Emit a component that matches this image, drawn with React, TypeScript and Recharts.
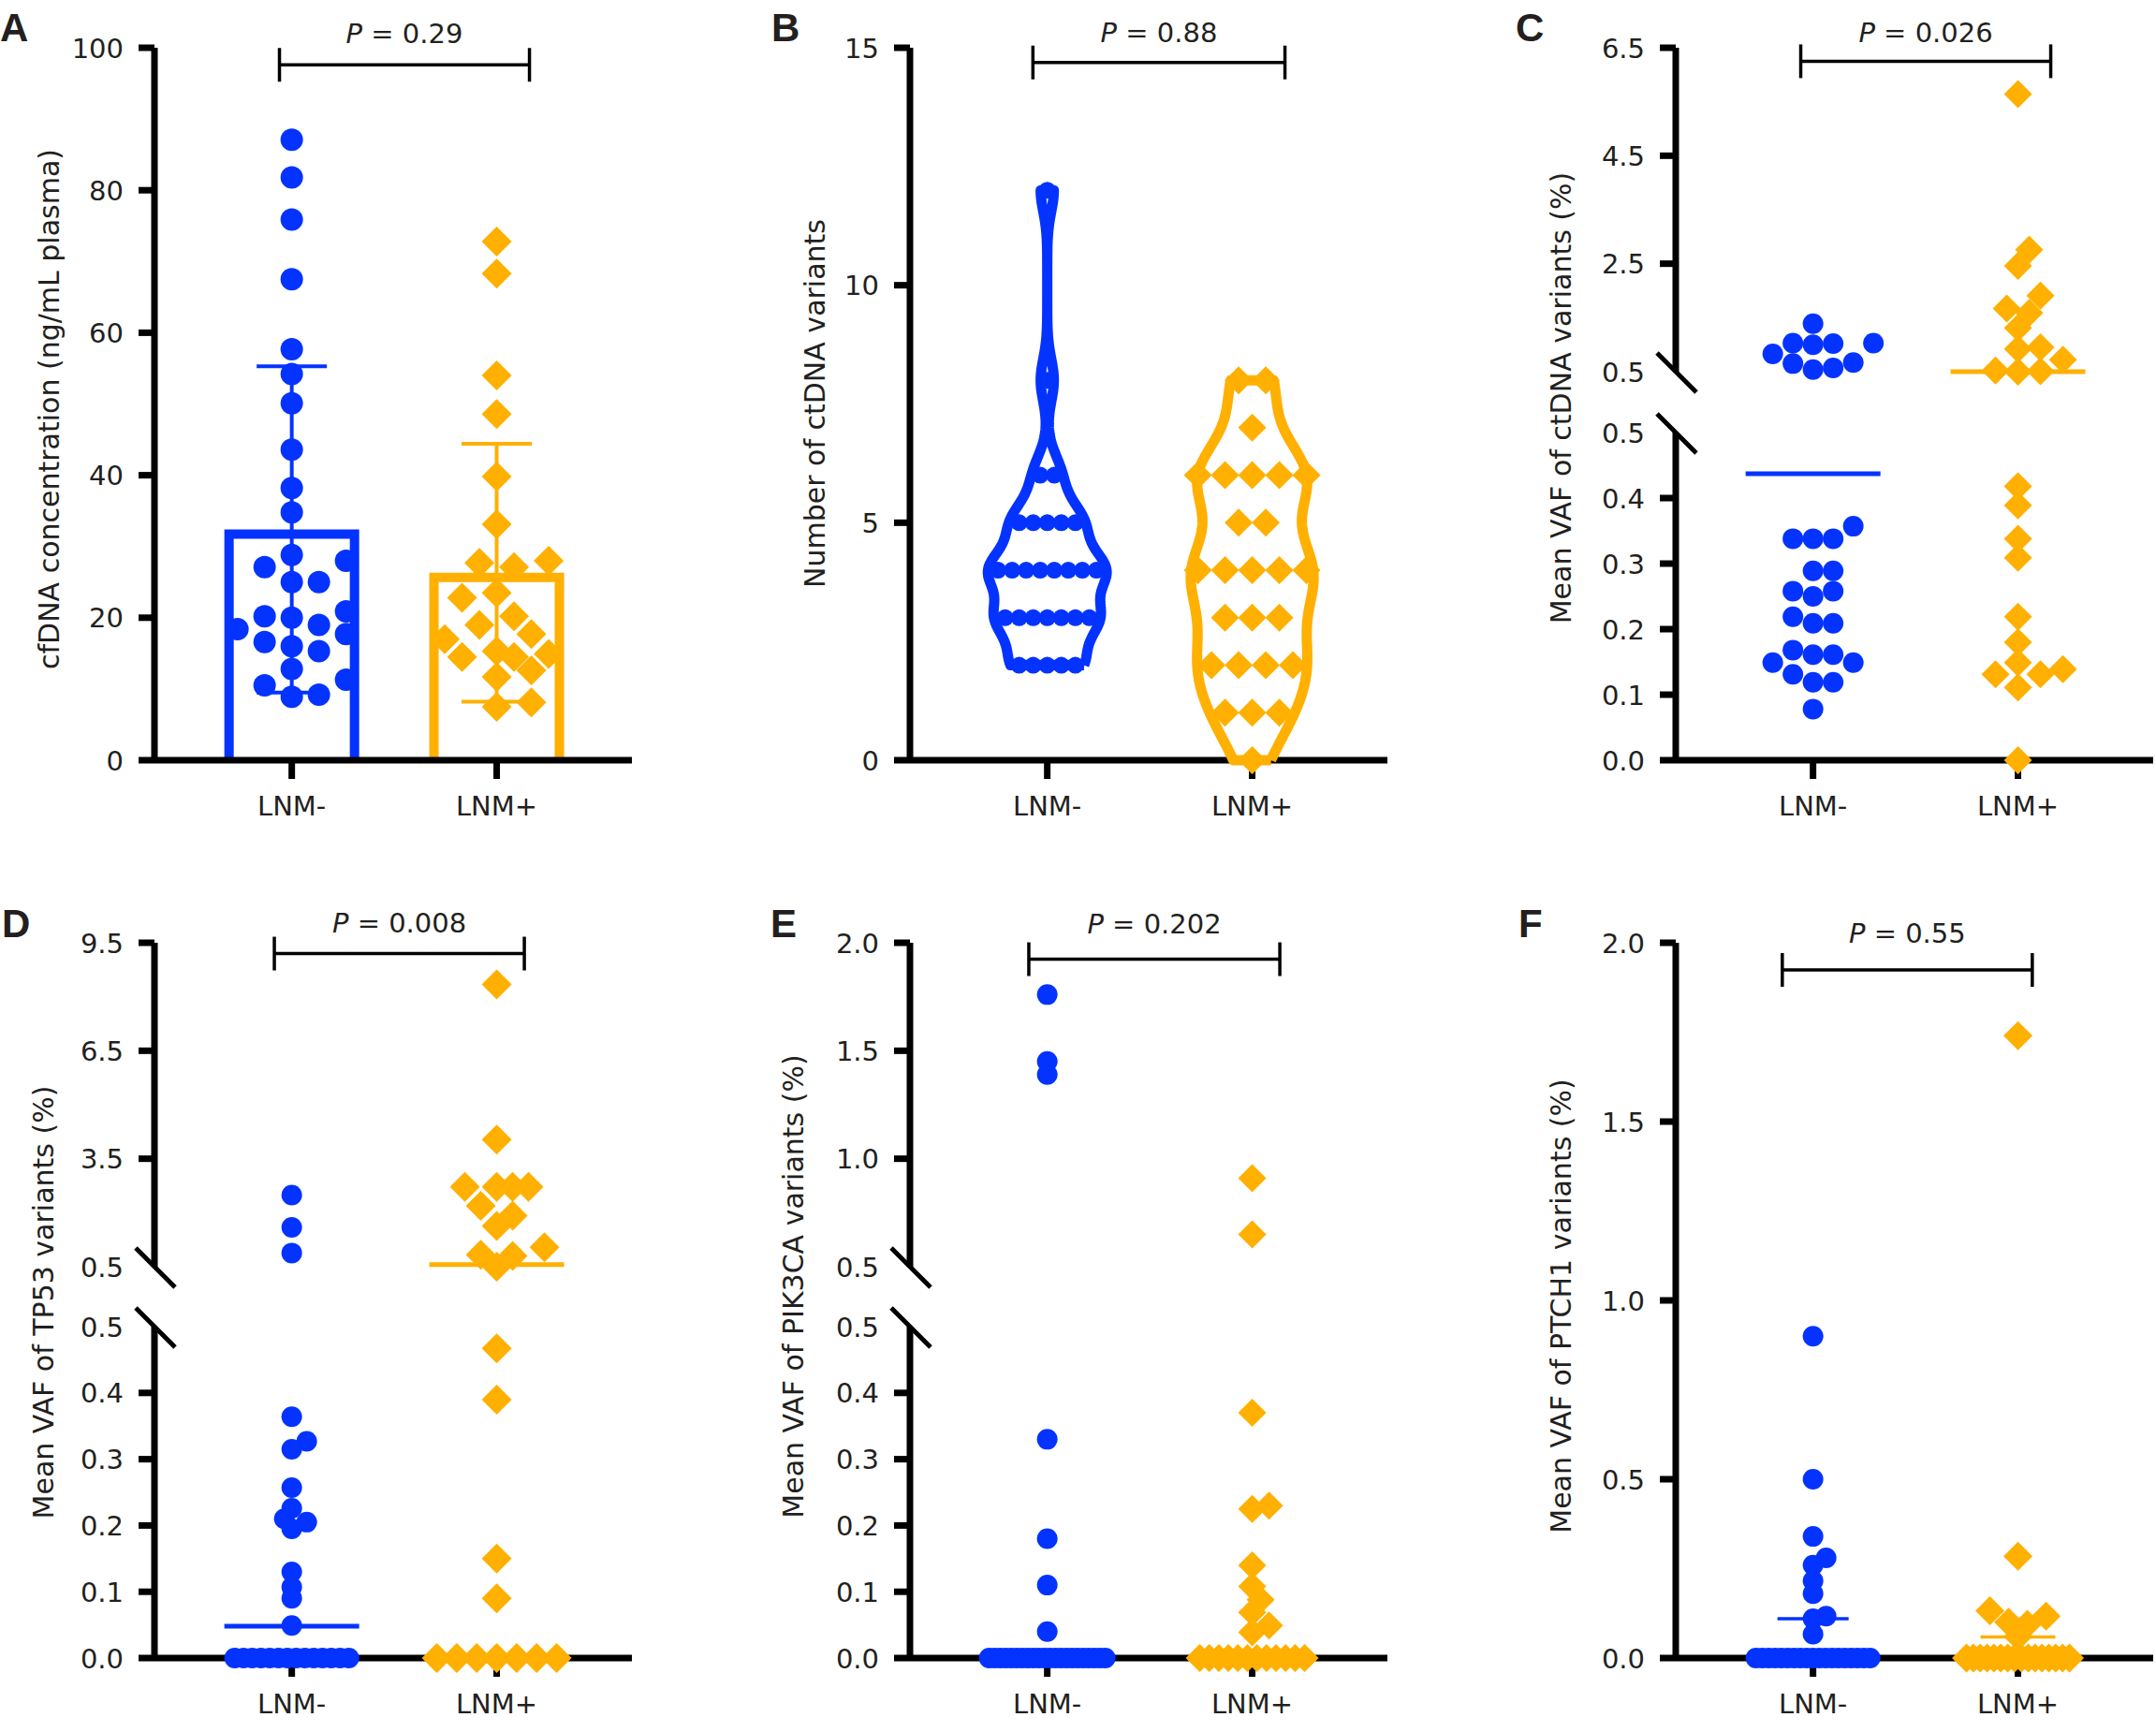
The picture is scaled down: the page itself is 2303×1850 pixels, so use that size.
import React from 'react';
import {
  ComposedChart,
  ScatterChart,
  Scatter,
  XAxis,
  YAxis,
  ReferenceLine,
  ReferenceDot,
  ReferenceArea,
  ErrorBar,
} from 'recharts';

const BLUE = '#0433ff';
const ORANGE = '#ffb000';
const INK = '#231f20';
const FONT = '"DejaVu Sans", Verdana, sans-serif';
const GROUPS = ['LNM-', 'LNM+'];

// A - cfDNA concentration (ng/mL plasma)
const cfdnaNeg = [87.1, 81.8, 75.9, 67.5, 57.7, 54.2, 50.1, 43.6, 38.2, 34.8, 28.8, 28.0, 27.1, 25.0, 25.0, 20.9, 20.2, 20.0, 19.0, 18.4, 17.7, 16.6, 16.0, 15.3, 12.8, 11.3, 10.5, 9.2, 8.9];
const cfdnaPos = [72.8, 68.3, 54.0, 48.6, 39.8, 33.1, 28.0, 27.7, 27.1, 23.5, 22.8, 20.2, 19.0, 17.7, 17.0, 15.3, 14.9, 14.5, 14.5, 12.6, 11.7, 8.1, 7.5];
const cfdnaMean = [32.4, 26.3];
const cfdnaSd = [22.9, 18.1];
const cfdnaTicks = [0, 20, 40, 60, 80, 100];

// B - number of ctDNA variants
const countNeg = [2, 2, 2, 2, 2, 3, 3, 3, 3, 3, 3, 3, 4, 4, 4, 4, 4, 4, 4, 4, 5, 5, 5, 5, 5, 6, 6, 8, 12];
const countPos = [0, 1, 1, 1, 2, 2, 2, 2, 3, 3, 3, 4, 4, 4, 4, 4, 5, 5, 6, 6, 6, 6, 6, 7, 8, 8];
const countTicks = [0, 5, 10, 15];

// C - mean VAF of ctDNA variants (%)
const vafNeg = [1.39, 1.03, 1.03, 1.02, 1.0, 0.83, 0.67, 0.65, 0.57, 0.54, 0.357, 0.338, 0.338, 0.338, 0.289, 0.289, 0.258, 0.258, 0.25, 0.219, 0.209, 0.209, 0.168, 0.161, 0.161, 0.149, 0.149, 0.131, 0.119, 0.119, 0.078];
const vafPos = [5.64, 2.76, 2.46, 1.91, 1.67, 1.59, 1.31, 0.95, 0.92, 0.72, 0.52, 0.51, 0.5, 0.418, 0.389, 0.338, 0.309, 0.219, 0.18, 0.149, 0.139, 0.131, 0.131, 0.111, 0];
const vafCentre = [0.437, 0.5];
const vafUpperTicks = [0.5, 2.5, 4.5, 6.5];

// D - mean VAF of TP53 variants (%)
const tp53Neg = [2.49, 1.59, 0.88, 0.364, 0.327, 0.315, 0.257, 0.226, 0.21, 0.205, 0.195, 0.13, 0.107, 0.09, 0.049, 0, 0, 0, 0, 0, 0, 0, 0, 0, 0, 0, 0, 0, 0];
const tp53Pos = [8.34, 4.03, 2.72, 2.72, 2.72, 2.72, 2.19, 1.92, 1.63, 1.04, 0.83, 0.8, 0.5, 0.467, 0.39, 0.15, 0.09, 0, 0, 0, 0, 0, 0, 0];
const tp53Centre = [0.048, 0.56];
const tp53UpperTicks = [0.5, 3.5, 6.5, 9.5];

// E - mean VAF of PIK3CA variants (%)
const pik3caNeg = [1.76, 1.45, 1.39, 0.33, 0.18, 0.11, 0.04, 0, 0, 0, 0, 0, 0, 0, 0, 0, 0, 0, 0, 0, 0, 0, 0, 0, 0, 0, 0, 0, 0];
const pik3caPos = [0.91, 0.65, 0.37, 0.23, 0.225, 0.14, 0.108, 0.088, 0.069, 0.049, 0.039, 0, 0, 0, 0, 0, 0, 0, 0, 0, 0, 0, 0];
const pik3caUpperTicks = [0.5, 1.0, 1.5, 2.0];

// F - mean VAF of PTCH1 variants (%)
const ptch1Neg = [0.9, 0.5, 0.34, 0.28, 0.26, 0.216, 0.18, 0.117, 0.11, 0.067, 0, 0, 0, 0, 0, 0, 0, 0, 0, 0, 0, 0, 0, 0, 0, 0, 0, 0, 0];
const ptch1Pos = [1.74, 0.285, 0.132, 0.117, 0.1, 0.094, 0.06, 0, 0, 0, 0, 0, 0, 0, 0, 0, 0, 0, 0, 0, 0, 0, 0];
const ptch1Centre = [0.11, 0.059];
const ptch1Ticks = [0, 0.5, 1.0, 1.5, 2.0];

const lowerTicks = [0, 0.1, 0.2, 0.3, 0.4, 0.5];

// geometry
const X_DOMAIN: [number, number] = [0.33, 2.66];
const PLOT_W = 510;
const X_PX = PLOT_W / (X_DOMAIN[1] - X_DOMAIN[0]);
const ML = 150;
const MR = 3;
const XH = 72;
const COL = [165, 972, 1790];
const R1 = { top: 51, bottom: 812, hi: 397, lo: 462 };
const R2 = { top: 1007, bottom: 1771, hi: 1353, lo: 1417 };

const ppu = (top: number, bottom: number, d: [number, number]) => (bottom - top) / (d[1] - d[0]);
const above = (v: number[]) => v.filter((x) => x >= 0.5);
const below = (v: number[]) => v.filter((x) => x < 0.5);

type Swarm = { dia: number; step: number; maxHalf: number; rowMin?: number; rowGap?: number; rowHalf?: number };

// column-scatter layout: equal values become centred rows, the rest are
// pushed sideways until they stop colliding (pixel space)
function swarmOffsets(values: number[], pxPerUnit: number, s: Swarm): number[] {
  const out = values.map(() => 0);
  const placed: { x: number; y: number }[] = [];
  const groups = new Map<number, number[]>();
  values.forEach((v, i) => {
    const g = groups.get(v) ?? [];
    g.push(i);
    groups.set(v, g);
  });
  const rest: number[] = [];
  groups.forEach((idx, v) => {
    if (s.rowMin && idx.length >= s.rowMin) {
      const n = idx.length;
      const gap = n > 1 ? Math.min(s.rowGap ?? s.dia, (2 * (s.rowHalf ?? 1e9)) / (n - 1)) : 0;
      idx.forEach((i, k) => {
        out[i] = (k - (n - 1) / 2) * gap;
        placed.push({ x: out[i], y: v * pxPerUnit });
      });
    } else rest.push(...idx);
  });
  rest.sort((a, b) => values[a] - values[b]);
  const cands = [0];
  for (let k = 1; k * s.step <= s.maxHalf + 0.01; k++) cands.push(k * s.step, -k * s.step);
  for (const i of rest) {
    const y = values[i] * pxPerUnit;
    let best = 0;
    let bestGap = -1;
    for (const c of cands) {
      let gap = Infinity;
      for (const p of placed) gap = Math.min(gap, Math.hypot(p.x - c, p.y - y));
      if (gap >= s.dia) {
        best = c;
        break;
      }
      if (gap > bestGap) {
        bestGap = gap;
        best = c;
      }
    }
    out[i] = best;
    placed.push({ x: best, y });
  }
  return out;
}

function layout(values: number[], group: number, pxPerUnit: number, s: Swarm) {
  const off = swarmOffsets(values, pxPerUnit, s);
  return values.map((v, i) => ({ x: group + off[i] / X_PX, y: v }));
}

// kernel density outline, truncated at the data range
function violin(values: number[], centre: number, bw: number, maxHalf: number) {
  const lo = Math.min(...values);
  const hi = Math.max(...values);
  const n = 240;
  const ys = Array.from({ length: n + 1 }, (_, i) => lo + ((hi - lo) * i) / n);
  const dens = ys.map((y) => values.reduce((s, v) => s + Math.exp(-((y - v) ** 2) / (2 * bw * bw)), 0));
  const m = Math.max(...dens);
  const right = ys.map((y, i) => ({ x: centre + (maxHalf * dens[i]) / m, y }));
  const left = ys.map((y, i) => ({ x: centre - (maxHalf * dens[i]) / m, y })).reverse();
  return [...right, ...left, right[0]];
}

const dot = (color: string, r: number) => (p: any) => <circle cx={p.cx} cy={p.cy} r={r} fill={color} />;
const diamond = (color: string, h: number) => (p: any) => (
  <polygon points={`${p.cx},${p.cy - h} ${p.cx + h},${p.cy} ${p.cx},${p.cy + h} ${p.cx - h},${p.cy}`} fill={color} />
);
const nothing = () => <g />;

function YTick({ y, value, digits, skip }: { y: number; value: number; digits: number; skip?: number }) {
  return (
    <g>
      {value !== skip && <line x1={ML - 17} x2={ML} y1={y} y2={y} stroke="#000" strokeWidth={7} />}
      <text x={ML - 33} y={y} dy={10.5} textAnchor="end" fontSize={29} fontFamily={FONT} fill={INK}>
        {value.toFixed(digits)}
      </text>
    </g>
  );
}

const bracket = (x1: number, x2: number, y: number, pxPerUnit: number) => {
  const t = 18 / pxPerUnit;
  const line = { stroke: '#000', strokeWidth: 3.5, ifOverflow: 'visible' as const };
  return [
    <ReferenceLine key="b0" segment={[{ x: x1, y }, { x: x2, y }]} {...line} />,
    <ReferenceLine key="b1" segment={[{ x: x1, y: y - t }, { x: x1, y: y + t }]} {...line} />,
    <ReferenceLine key="b2" segment={[{ x: x2, y: y - t }, { x: x2, y: y + t }]} {...line} />,
  ];
};

const pLabel = (x: number, y: number, value: string) => (
  <ReferenceDot
    key="p"
    x={x}
    y={y}
    ifOverflow="visible"
    shape={(p: any) => (
      <text x={p.cx} y={p.cy} textAnchor="middle" fontSize={29} fontFamily={FONT} fill={INK}>
        <tspan fontStyle="italic">P</tspan> = {value}
      </text>
    )}
  />
);

const breakMark = (y: number, pxPerUnit: number) => (
  <ReferenceLine
    key="brk"
    segment={[
      { x: X_DOMAIN[0] - 20 / X_PX, y: y + 20 / pxPerUnit },
      { x: X_DOMAIN[0] + 22 / X_PX, y: y - 22 / pxPerUnit },
    ]}
    stroke="#000"
    strokeWidth={5}
    ifOverflow="visible"
  />
);

const centreLine = (group: number, value: number, halfPx: number, color: string, width: number) => (
  <ReferenceLine
    key={`c${group}`}
    segment={[
      { x: group - halfPx / X_PX, y: value },
      { x: group + halfPx / X_PX, y: value },
    ]}
    stroke={color}
    strokeWidth={width}
    ifOverflow="visible"
    zIndex={900}
  />
);

type SegProps = {
  col: number;
  top: number;
  bottom: number;
  domain: [number, number];
  ticks: number[];
  digits: number;
  showX: boolean;
  skip?: number;
  padTop: number;
  padBottom?: number;
  composed?: boolean;
  children: React.ReactNode;
};

function Segment({ col, top, bottom, domain, ticks, digits, showX, skip, padTop, padBottom = 30, composed, children }: SegProps) {
  const w = ML + PLOT_W + MR;
  const h = padTop + (bottom - top) + (showX ? XH : padBottom);
  const margin = { top: padTop, right: MR, bottom: showX ? 0 : padBottom, left: 0 };
  const axes = [
    <XAxis
      key="x"
      type="number"
      dataKey="x"
      domain={X_DOMAIN}
      ticks={[1, 2]}
      interval={0}
      hide={!showX}
      height={XH}
      axisLine={{ stroke: '#000', strokeWidth: 7 }}
      tickLine={{ stroke: '#000', strokeWidth: 7 }}
      tickSize={20}
      tickMargin={18}
      tickFormatter={(v: number) => GROUPS[v - 1]}
      tick={{ fontSize: 29, fontFamily: FONT, fill: INK }}
    />,
    <YAxis
      key="y"
      type="number"
      dataKey="y"
      domain={domain}
      ticks={ticks}
      interval={0}
      width={ML}
      axisLine={{ stroke: '#000', strokeWidth: 7 }}
      tickLine={false}
      tick={(p: any) => <YTick key={p.index} y={p.y} value={p.payload.value} digits={digits} skip={skip} />}
    />,
  ];
  const Chart = composed ? ComposedChart : ScatterChart;
  return (
    <div style={{ position: 'absolute', left: col - ML, top: top - padTop }}>
      <Chart width={w} height={h} margin={margin}>
        {axes}
        {children}
      </Chart>
    </div>
  );
}

// open-bottom bar outline, stroke kept inside the bar rectangle
const barOutline = (color: string) => (p: any) => {
  const s = 10;
  const x0 = p.x + s / 2;
  const x1 = p.x + p.width - s / 2;
  const yt = p.y + s / 2;
  const yb = p.y + p.height;
  return <path d={`M${x0},${yb} L${x0},${yt} L${x1},${yt} L${x1},${yb}`} fill="none" stroke={color} strokeWidth={s} />;
};

function PanelA() {
  const d: [number, number] = [0, 100];
  const k = ppu(R1.top, R1.bottom, d);
  const half = 72 / X_PX;
  return (
    <Segment col={COL[0]} top={R1.top} bottom={R1.bottom} domain={d} ticks={cfdnaTicks} digits={0} showX padTop={51} composed>
      {cfdnaMean.map((m, i) => (
        <ReferenceArea
          key={`bar${i}`}
          x1={i + 1 - half}
          x2={i + 1 + half}
          y1={0}
          y2={m}
          ifOverflow="visible"
          shape={barOutline(i ? ORANGE : BLUE)}
        />
      ))}
      {cfdnaMean.map((m, i) => (
        <Scatter key={`e${i}`} data={[{ x: i + 1, y: m, sd: cfdnaSd[i] }]} shape={nothing} isAnimationActive={false}>
          <ErrorBar dataKey="sd" direction="y" width={37.5} stroke={i ? ORANGE : BLUE} strokeWidth={4} isAnimationActive={false} />
        </Scatter>
      ))}
      <Scatter data={layout(cfdnaNeg, 1, k, { dia: 24, step: 29, maxHalf: 58 })} shape={dot(BLUE, 12)} isAnimationActive={false} />
      <Scatter data={layout(cfdnaPos, 2, k, { dia: 30, step: 18.5, maxHalf: 56 })} shape={diamond(ORANGE, 16)} isAnimationActive={false} />
      {bracket(0.94, 2.16, 97.6, k)}
      {pLabel(1.55, 100.66, '0.29')}
    </Segment>
  );
}

function PanelB() {
  const d: [number, number] = [0, 15];
  const k = ppu(R1.top, R1.bottom, d);
  const violinLine = (color: string) => ({ stroke: color, strokeWidth: 11, strokeLinejoin: 'round' as const, fill: 'none' });
  return (
    <Segment col={COL[1]} top={R1.top} bottom={R1.bottom} domain={d} ticks={countTicks} digits={0} showX padTop={51}>
      <Scatter data={violin(countNeg, 1, 0.45, 0.29)} line={violinLine(BLUE)} lineType="joint" fill="none" shape={nothing} isAnimationActive={false} />
      <Scatter data={violin(countPos, 2, 0.7, 0.3)} line={violinLine(ORANGE)} lineType="joint" fill="none" shape={nothing} isAnimationActive={false} />
      <Scatter data={layout(countNeg, 1, k, { dia: 15, step: 15, maxHalf: 60, rowMin: 1, rowGap: 15 })} shape={dot(BLUE, 9)} isAnimationActive={false} />
      <Scatter data={layout(countPos, 2, k, { dia: 29, step: 29, maxHalf: 60, rowMin: 1, rowGap: 29 })} shape={diamond(ORANGE, 15)} isAnimationActive={false} />
      {bracket(0.93, 2.16, 14.69, k)}
      {pLabel(1.545, 15.12, '0.88')}
    </Segment>
  );
}

function PanelC() {
  const up: [number, number] = [0.5, 6.5];
  const lo: [number, number] = [0, 0.5];
  const ku = ppu(R1.top, R1.hi, up);
  const kl = ppu(R1.lo, R1.bottom, lo);
  const negS = { dia: 21.5, step: 21.5, maxHalf: 65 };
  const posS = { dia: 20, step: 12, maxHalf: 60 };
  return (
    <>
      <Segment col={COL[2]} top={R1.top} bottom={R1.hi} domain={up} ticks={vafUpperTicks} digits={1} showX={false} skip={0.5} padTop={51}>
        <Scatter data={layout(above(vafNeg), 1, ku, negS)} shape={dot(BLUE, 11)} isAnimationActive={false} />
        <Scatter data={layout(above(vafPos), 2, ku, posS)} shape={diamond(ORANGE, 15)} isAnimationActive={false} />
        {centreLine(2, vafCentre[1], 72, ORANGE, 5)}
        {bracket(0.94, 2.16, 6.25, ku)}
        {pLabel(1.55, 6.6, '0.026')}
        {breakMark(0.5, ku)}
      </Segment>
      <Segment col={COL[2]} top={R1.lo} bottom={R1.bottom} domain={lo} ticks={lowerTicks} digits={1} showX skip={0.5} padTop={30}>
        <Scatter data={layout(below(vafNeg), 1, kl, negS)} shape={dot(BLUE, 11)} isAnimationActive={false} />
        <Scatter data={layout(below(vafPos), 2, kl, posS)} shape={diamond(ORANGE, 15)} isAnimationActive={false} />
        {centreLine(1, vafCentre[0], 72, BLUE, 5)}
        {breakMark(0.5, kl)}
      </Segment>
    </>
  );
}

type BrokenSpec = {
  col: number;
  upper: [number, number];
  upperTicks: number[];
  neg: number[];
  pos: number[];
  negS: Swarm;
  posS: Swarm;
  posH: number;
  centre?: number[];
  br: [number, number, number];
  pText: string;
  pY: number;
};

function BrokenPanel({ col, upper, upperTicks, neg, pos, negS, posS, posH, centre, br, pText, pY }: BrokenSpec) {
  const lo: [number, number] = [0, 0.5];
  const ku = ppu(R2.top, R2.hi, upper);
  const kl = ppu(R2.lo, R2.bottom, lo);
  const lines = (inUpper: boolean) =>
    centre
      ? centre
          .map((c, i) => ({ c, i }))
          .filter(({ c }) => (c >= 0.5) === inUpper)
          .map(({ c, i }) => centreLine(i + 1, c, 72, i ? ORANGE : BLUE, 5))
      : null;
  return (
    <>
      <Segment col={col} top={R2.top} bottom={R2.hi} domain={upper} ticks={upperTicks} digits={1} showX={false} skip={0.5} padTop={60}>
        <Scatter data={layout(above(neg), 1, ku, negS)} shape={dot(BLUE, 11)} isAnimationActive={false} />
        <Scatter data={layout(above(pos), 2, ku, posS)} shape={diamond(ORANGE, posH)} isAnimationActive={false} />
        {lines(true)}
        {bracket(br[0], br[1], br[2], ku)}
        {pLabel((br[0] + br[1]) / 2, pY, pText)}
        {breakMark(0.5, ku)}
      </Segment>
      <Segment col={col} top={R2.lo} bottom={R2.bottom} domain={lo} ticks={lowerTicks} digits={1} showX skip={0.5} padTop={30}>
        <Scatter data={layout(below(neg), 1, kl, negS)} shape={dot(BLUE, 11)} isAnimationActive={false} />
        <Scatter data={layout(below(pos), 2, kl, posS)} shape={diamond(ORANGE, posH)} isAnimationActive={false} />
        {lines(false)}
        {breakMark(0.5, kl)}
      </Segment>
    </>
  );
}

function PanelF() {
  const d: [number, number] = [0, 2];
  const k = ppu(R2.top, R2.bottom, d);
  return (
    <Segment col={COL[2]} top={R2.top} bottom={R2.bottom} domain={d} ticks={ptch1Ticks} digits={1} showX padTop={60}>
      <Scatter data={layout(ptch1Neg, 1, k, { dia: 12, step: 7, maxHalf: 14, rowMin: 5, rowGap: 22, rowHalf: 61 })} shape={dot(BLUE, 11)} isAnimationActive={false} />
      <Scatter data={layout(ptch1Pos, 2, k, { dia: 16, step: 10, maxHalf: 30, rowMin: 5, rowGap: 31, rowHalf: 55 })} shape={diamond(ORANGE, 15.5)} isAnimationActive={false} />
      {centreLine(1, ptch1Centre[0], 38, BLUE, 3.5)}
      {centreLine(2, ptch1Centre[1], 40, ORANGE, 3.5)}
      {bracket(0.85, 2.07, 1.924, k)}
      {pLabel(1.46, 2.0, '0.55')}
    </Segment>
  );
}

const titles = [
  { text: 'cfDNA concentration (ng/mL plasma)', x: 52, y: 437 },
  { text: 'Number of ctDNA variants', x: 870, y: 431 },
  { text: 'Mean VAF of ctDNA variants (%)', x: 1667, y: 425 },
  { text: 'Mean VAF of TP53 variants (%)', x: 46, y: 1391 },
  { text: 'Mean VAF of PIK3CA variants (%)', x: 847, y: 1374 },
  { text: 'Mean VAF of PTCH1 variants (%)', x: 1667, y: 1395 },
];

const letters = [
  { t: 'A', x: 0, y: 44 },
  { t: 'B', x: 824, y: 44 },
  { t: 'C', x: 1619, y: 44 },
  { t: 'D', x: 2, y: 1001 },
  { t: 'E', x: 823, y: 1001 },
  { t: 'F', x: 1622, y: 1001 },
];

export default function App() {
  return (
    <div style={{ position: 'absolute', left: 0, top: 0, width: 2303, height: 1850, background: '#fff', overflow: 'hidden' }}>
      <svg width={2303} height={1850} style={{ position: 'absolute', left: 0, top: 0 }}>
        {titles.map((t) => (
          <text
            key={t.text}
            x={t.x}
            y={t.y}
            transform={`rotate(-90 ${t.x} ${t.y})`}
            textAnchor="middle"
            dominantBaseline="central"
            fontSize={30}
            fontFamily={FONT}
            fill={INK}
          >
            {t.text}
          </text>
        ))}
        {letters.map((l) => (
          <text key={l.t} x={l.x} y={l.y} fontSize={42} fontWeight="bold" fontFamily='"Liberation Sans", Arial, sans-serif' fill={INK}>
            {l.t}
          </text>
        ))}
      </svg>
      <PanelA />
      <PanelB />
      <PanelC />
      <BrokenPanel
        col={COL[0]}
        upper={[0.5, 9.5]}
        upperTicks={tp53UpperTicks}
        neg={tp53Neg}
        pos={tp53Pos}
        negS={{ dia: 12, step: 8, maxHalf: 20, rowMin: 5, rowGap: 22, rowHalf: 61 }}
        posS={{ dia: 20, step: 17, maxHalf: 51, rowMin: 5, rowGap: 31, rowHalf: 64 }}
        posH={16}
        centre={tp53Centre}
        br={[0.915, 2.135, 9.2]}
        pText="0.008"
        pY={9.79}
      />
      <BrokenPanel
        col={COL[1]}
        upper={[0.5, 2.0]}
        upperTicks={pik3caUpperTicks}
        neg={pik3caNeg}
        pos={pik3caPos}
        negS={{ dia: 12, step: 8, maxHalf: 20, rowMin: 5, rowGap: 22, rowHalf: 62 }}
        posS={{ dia: 14, step: 9, maxHalf: 27, rowMin: 5, rowGap: 30, rowHalf: 56 }}
        posH={15}
        br={[0.91, 2.135, 1.924]}
        pText="0.202"
        pY={2.043}
      />
      <PanelF />
    </div>
  );
}
